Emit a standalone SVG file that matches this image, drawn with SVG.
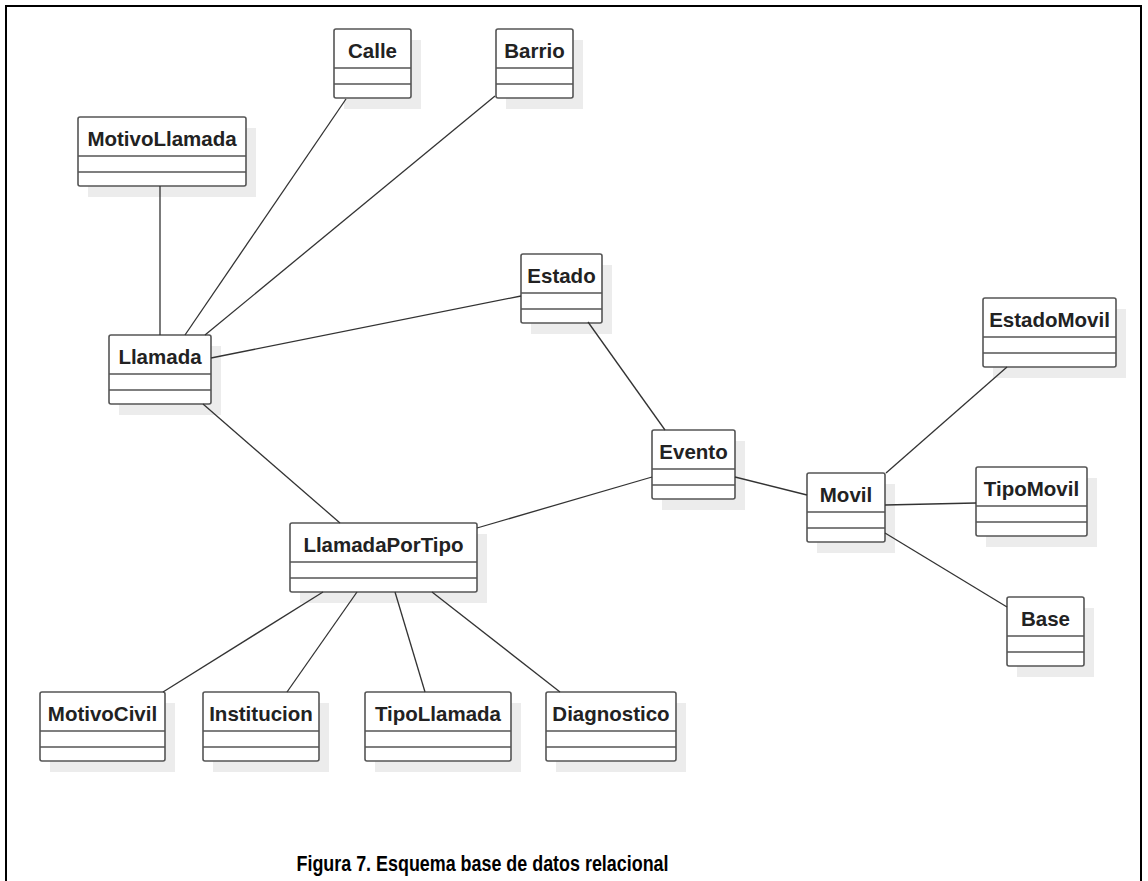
<svg xmlns="http://www.w3.org/2000/svg" width="1148" height="881" viewBox="0 0 1148 881">
<style>
.sh{fill:#ececec}
.bx{fill:#fff;stroke:#555;stroke-width:1.6}
.dv{stroke:#555;stroke-width:1.6}
.t{font-family:"Liberation Sans",Arial,sans-serif;font-weight:bold;font-size:20.5px;fill:#222;text-anchor:middle}
.c{stroke:#333;stroke-width:1.3;fill:none}
.cap{font-family:"Liberation Sans",Arial,sans-serif;font-weight:bold;font-size:22px;fill:#000;text-anchor:middle}
</style>
<rect width="1148" height="881" fill="#fff"/>
<path d="M6,881 V6 H1141 V881" fill="none" stroke="#000" stroke-width="2"/>
<g id="MotivoLlamada"><rect class="sh" x="88" y="128" width="168" height="69"/><rect class="bx" x="78" y="117" width="168" height="69" rx="2"/><line class="dv" x1="78" y1="156" x2="246" y2="156"/><line class="dv" x1="78" y1="172" x2="246" y2="172"/><text class="t" x="162" y="146">MotivoLlamada</text></g>
<g id="Calle"><rect class="sh" x="344" y="40" width="77" height="69"/><rect class="bx" x="334" y="29" width="77" height="69" rx="2"/><line class="dv" x1="334" y1="68" x2="411" y2="68"/><line class="dv" x1="334" y1="84" x2="411" y2="84"/><text class="t" x="372.5" y="58">Calle</text></g>
<g id="Barrio"><rect class="sh" x="506" y="40" width="77" height="69"/><rect class="bx" x="496" y="29" width="77" height="69" rx="2"/><line class="dv" x1="496" y1="68" x2="573" y2="68"/><line class="dv" x1="496" y1="84" x2="573" y2="84"/><text class="t" x="534.5" y="58">Barrio</text></g>
<g id="Estado"><rect class="sh" x="531" y="265" width="81" height="69"/><rect class="bx" x="521" y="254" width="81" height="69" rx="2"/><line class="dv" x1="521" y1="293" x2="602" y2="293"/><line class="dv" x1="521" y1="309" x2="602" y2="309"/><text class="t" x="561.5" y="283">Estado</text></g>
<g id="Llamada"><rect class="sh" x="119" y="346" width="102" height="69"/><rect class="bx" x="109" y="335" width="102" height="69" rx="2"/><line class="dv" x1="109" y1="374" x2="211" y2="374"/><line class="dv" x1="109" y1="390" x2="211" y2="390"/><text class="t" x="160" y="364">Llamada</text></g>
<g id="EstadoMovil"><rect class="sh" x="993" y="309" width="133" height="69"/><rect class="bx" x="983" y="298" width="133" height="69" rx="2"/><line class="dv" x1="983" y1="337" x2="1116" y2="337"/><line class="dv" x1="983" y1="353" x2="1116" y2="353"/><text class="t" x="1049.5" y="327">EstadoMovil</text></g>
<g id="Evento"><rect class="sh" x="662" y="441" width="83" height="69"/><rect class="bx" x="652" y="430" width="83" height="69" rx="2"/><line class="dv" x1="652" y1="469" x2="735" y2="469"/><line class="dv" x1="652" y1="485" x2="735" y2="485"/><text class="t" x="693.5" y="459">Evento</text></g>
<g id="Movil"><rect class="sh" x="817" y="484" width="78" height="69"/><rect class="bx" x="807" y="473" width="78" height="69" rx="2"/><line class="dv" x1="807" y1="512" x2="885" y2="512"/><line class="dv" x1="807" y1="528" x2="885" y2="528"/><text class="t" x="846" y="502">Movil</text></g>
<g id="TipoMovil"><rect class="sh" x="986" y="478" width="111" height="69"/><rect class="bx" x="976" y="467" width="111" height="69" rx="2"/><line class="dv" x1="976" y1="506" x2="1087" y2="506"/><line class="dv" x1="976" y1="522" x2="1087" y2="522"/><text class="t" x="1031.5" y="496">TipoMovil</text></g>
<g id="LlamadaPorTipo"><rect class="sh" x="300" y="534" width="187" height="69"/><rect class="bx" x="290" y="523" width="187" height="69" rx="2"/><line class="dv" x1="290" y1="562" x2="477" y2="562"/><line class="dv" x1="290" y1="578" x2="477" y2="578"/><text class="t" x="383.5" y="552">LlamadaPorTipo</text></g>
<g id="Base"><rect class="sh" x="1017" y="608" width="77" height="69"/><rect class="bx" x="1007" y="597" width="77" height="69" rx="2"/><line class="dv" x1="1007" y1="636" x2="1084" y2="636"/><line class="dv" x1="1007" y1="652" x2="1084" y2="652"/><text class="t" x="1045.5" y="626">Base</text></g>
<g id="MotivoCivil"><rect class="sh" x="50" y="703" width="125" height="69"/><rect class="bx" x="40" y="692" width="125" height="69" rx="2"/><line class="dv" x1="40" y1="731" x2="165" y2="731"/><line class="dv" x1="40" y1="747" x2="165" y2="747"/><text class="t" x="102.5" y="721">MotivoCivil</text></g>
<g id="Institucion"><rect class="sh" x="213" y="703" width="116" height="69"/><rect class="bx" x="203" y="692" width="116" height="69" rx="2"/><line class="dv" x1="203" y1="731" x2="319" y2="731"/><line class="dv" x1="203" y1="747" x2="319" y2="747"/><text class="t" x="261" y="721">Institucion</text></g>
<g id="TipoLlamada"><rect class="sh" x="375" y="703" width="146" height="69"/><rect class="bx" x="365" y="692" width="146" height="69" rx="2"/><line class="dv" x1="365" y1="731" x2="511" y2="731"/><line class="dv" x1="365" y1="747" x2="511" y2="747"/><text class="t" x="438" y="721">TipoLlamada</text></g>
<g id="Diagnostico"><rect class="sh" x="556" y="703" width="130" height="69"/><rect class="bx" x="546" y="692" width="130" height="69" rx="2"/><line class="dv" x1="546" y1="731" x2="676" y2="731"/><line class="dv" x1="546" y1="747" x2="676" y2="747"/><text class="t" x="611" y="721">Diagnostico</text></g>
<g id="connectors">
<line class="c" x1="160" y1="186" x2="160" y2="335"/>
<line class="c" x1="346" y1="99" x2="185" y2="335"/>
<line class="c" x1="495" y1="96" x2="205" y2="335"/>
<line class="c" x1="211" y1="358" x2="521" y2="296"/>
<line class="c" x1="203" y1="404" x2="340" y2="523"/>
<line class="c" x1="588" y1="322" x2="665" y2="430"/>
<line class="c" x1="477" y1="528" x2="652" y2="477"/>
<line class="c" x1="735" y1="477" x2="807" y2="495"/>
<line class="c" x1="886" y1="473" x2="1007" y2="367"/>
<line class="c" x1="885" y1="505" x2="976" y2="503"/>
<line class="c" x1="885" y1="533" x2="1007" y2="607"/>
<line class="c" x1="323" y1="592" x2="163" y2="692"/>
<line class="c" x1="357" y1="592" x2="287" y2="692"/>
<line class="c" x1="395" y1="592" x2="425" y2="692"/>
<line class="c" x1="432" y1="592" x2="560" y2="692"/>
</g>
<text class="cap" x="482.5" y="871" textLength="372" lengthAdjust="spacingAndGlyphs">Figura 7. Esquema base de datos relacional</text>
</svg>
